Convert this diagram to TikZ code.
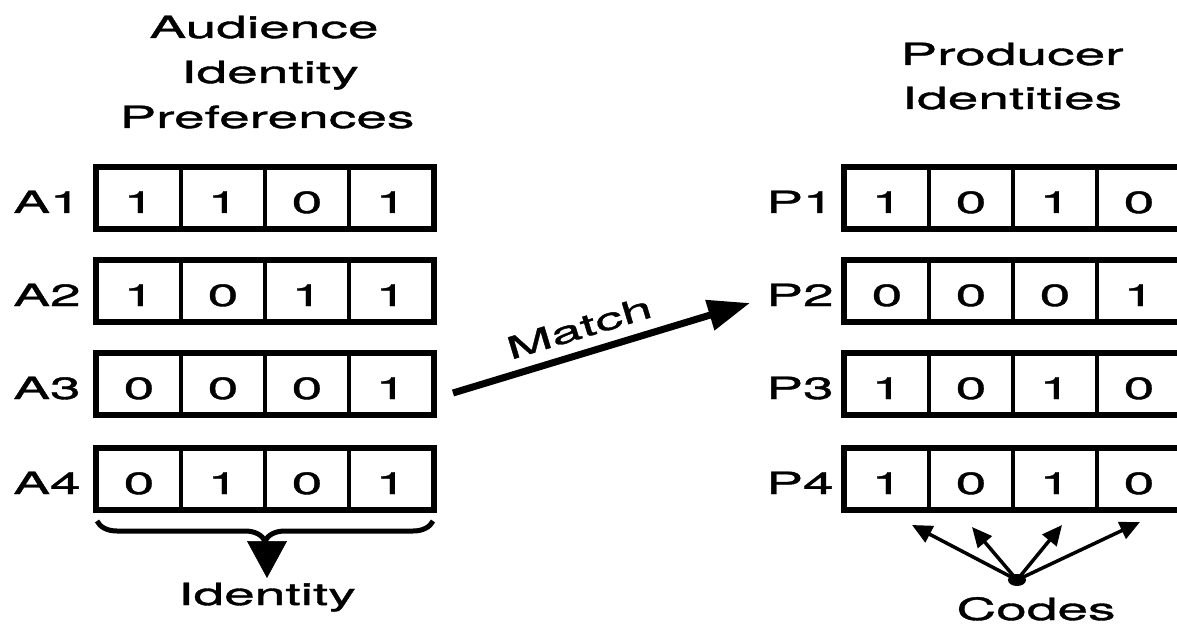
\documentclass[tikz,border=0pt]{standalone}
\usepackage{fontspec}
\setmainfont{TeX Gyre Heros}[FakeStretch=1.8,FakeBold=1.2]
\usetikzlibrary{arrows.meta,decorations.pathreplacing,shapes.geometric}
\begin{document}
\begin{tikzpicture}[x=1pt,y=-1pt,
  every node/.style={font=\fontsize{30.6}{44}\selectfont},
  cell/.style={draw,line width=3.5pt,minimum width=84pt,minimum height=60pt,inner sep=0pt,text height=30pt,text depth=0pt},
  outer/.style={line width=4.5pt},
  lab/.style={anchor=base,inner sep=0pt},
  codearrow/.style={line width=3.5pt,-{Triangle[length=20pt,width=18pt]}},
]
\useasboundingbox (0,0) rectangle (1177,628);
\clip (0,0) rectangle (1177,628);
% titles
\node[lab] (ttlA1) at (264,38) {Audience};
\node[lab] (ttlA2) at (270,83) {Identity};
\node[lab] (ttlA3) at (267,128) {Preferences};
\node[lab] (ttlP1) at (1012,65) {Producer};
\node[lab] (ttlP2) at (1012,109) {Identities};
% audience rows
\foreach \r/\yy/\va/\vb/\vc/\vd in {1/198/1/1/0/1, 2/291/1/0/1/1, 3/384/0/0/0/1, 4/479/0/1/0/1}{
  \node[cell] (a\r c1) at (139,\yy) {\va};
  \node[cell] (a\r c2) at (223,\yy) {\vb};
  \node[cell] (a\r c3) at (307,\yy) {\vc};
  \node[cell] (a\r c4) at (391,\yy) {\vd};
  \draw[outer] (a\r c1.north west) rectangle (a\r c4.south east);
  \node[lab] (la\r) at (47,\yy+15) {A\r};
}
% producer rows
\foreach \r/\yy/\va/\vb/\vc/\vd in {1/198/1/0/1/0, 2/291/0/0/0/1, 3/384/1/0/1/0, 4/479/1/0/1/0}{
  \node[cell] (p\r c1) at (887,\yy) {\va};
  \node[cell] (p\r c2) at (971,\yy) {\vb};
  \node[cell] (p\r c3) at (1055,\yy) {\vc};
  \node[cell] (p\r c4) at (1139,\yy) {\vd};
  \draw[outer] (p\r c1.north west) rectangle (p\r c4.south east);
  \node[lab] (lp\r) at (800,\yy+15) {P\r};
}
% match arrow
\coordinate (ms) at (453,393);
\coordinate (me) at (750,303);
\draw[line width=7pt,-{Triangle[length=42pt,width=30pt]}] (ms) -- node[pos=0.45,sloped,above=11pt,inner sep=0pt] (match) {Match} (me);
% brace
\draw[line width=5pt,decorate,decoration={brace,mirror,amplitude=20pt}] (97,521) -- (433,521);
\node[lab] (ident) at (267,605) {Identity};
\coordinate (bt) at (267,540);
\coordinate (idtop) at (267,578);
\draw[line width=0.5pt,-{Triangle[length=37pt,width=40pt]}] (bt) -- (idtop);
% codes
\node[ellipse,fill=black,minimum width=18pt,minimum height=12pt,inner sep=0pt] (dot) at (1017,580) {};
\node[lab] (codes) at (1036,620) {Codes};
\coordinate (t1) at (912,525);
\coordinate (t2) at (972,527);
\coordinate (t3) at (1062,525);
\coordinate (t4) at (1140,522);
\foreach \t in {t1,t2,t3,t4}{\draw[codearrow] (dot.center) -- (\t);}
\end{tikzpicture}
\end{document}
